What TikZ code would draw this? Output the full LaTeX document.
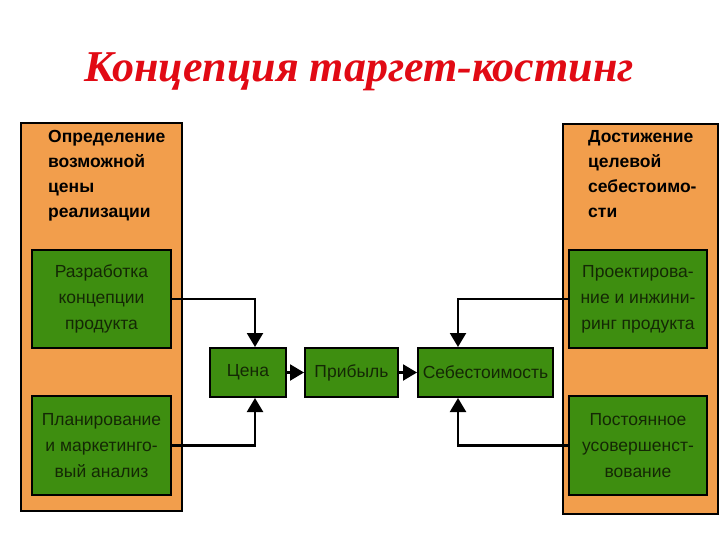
\documentclass[tikz,border=0pt]{standalone}
\usepackage{fontspec}
\setmainfont{Liberation Serif}
\newfontfamily\arialf{Liberation Sans}
\usetikzlibrary{arrows.meta}
\definecolor{panelor}{RGB}{242,158,76}
\definecolor{boxgr}{RGB}{62,142,16}
\definecolor{txtdk}{RGB}{20,40,5}
\definecolor{titred}{RGB}{225,10,20}
\begin{document}
\begin{tikzpicture}[x=1pt,y=-1pt,
  panel/.style={draw=black,line width=2pt,fill=panelor,anchor=north west,inner sep=0pt},
  gbox/.style={draw=black,line width=2pt,fill=boxgr,text=txtdk,align=center,
    font=\arialf\fontsize{17.5}{26}\selectfont,inner sep=0pt},
  head/.style={anchor=north west,align=left,text=black,
    font=\arialf\bfseries\fontsize{17.5}{25}\selectfont,inner sep=0pt},
  conn/.style={draw=black,line width=2.2pt,-{Triangle[width=16pt,length=14pt]}}]
\useasboundingbox (0,0) rectangle (720,540);
% title
\node[text=titred,font=\bfseries\itshape\fontsize{44}{48}\selectfont,inner sep=0pt] (title) at (359,72) {Концепция таргет-костинг};
% panels
\node[panel,minimum width=161pt,minimum height=388pt] (lp) at (20,122) {};
\node[panel,minimum width=155pt,minimum height=390pt] (rp) at (562,123) {};
% headers
\node[head] (lh) at (48,130) {Определение\\возможной\\цены\\реализации};
\node[head] (rh) at (588,130) {Достижение\\целевой\\себестоимо-\\сти};
% side boxes
\node[gbox,minimum width=139pt,minimum height=98pt] (l1) at (101.5,299) {Разработка\\концепции\\продукта};
\node[gbox,minimum width=139pt,minimum height=99pt] (l2) at (101.5,445.5) {Планирование\\и маркетинго-\\вый анализ};
\node[gbox,minimum width=138pt,minimum height=98pt] (r1) at (638,299) {Проектирова-\\ние и инжини-\\ринг продукта};
\node[gbox,minimum width=138pt,minimum height=99pt] (r2) at (638,445.5) {Постоянное\\усовершенст-\\вование};
% center boxes
\node[gbox,minimum width=76pt,minimum height=49pt] (cena) at (248,372.5) {Цена};
\node[gbox,minimum width=93pt,minimum height=49pt] (prib) at (351.5,372.5) {Прибыль};
\node[gbox,minimum width=135pt,minimum height=49pt] (seb) at (485.5,372.5) {Себестоимость};
% connectors
\draw[conn] (l1.east) -| ([xshift=7pt]cena.north);
\draw[conn] (l2.east) -| ([xshift=7pt]cena.south);
\draw[conn] (r1.west) -| ([xshift=-27.5pt]seb.north);
\draw[conn] (r2.west) -| ([xshift=-27.5pt]seb.south);
\draw[conn] (cena.east) -- (prib.west);
\draw[conn] (prib.east) -- (seb.west);
\end{tikzpicture}
\end{document}
